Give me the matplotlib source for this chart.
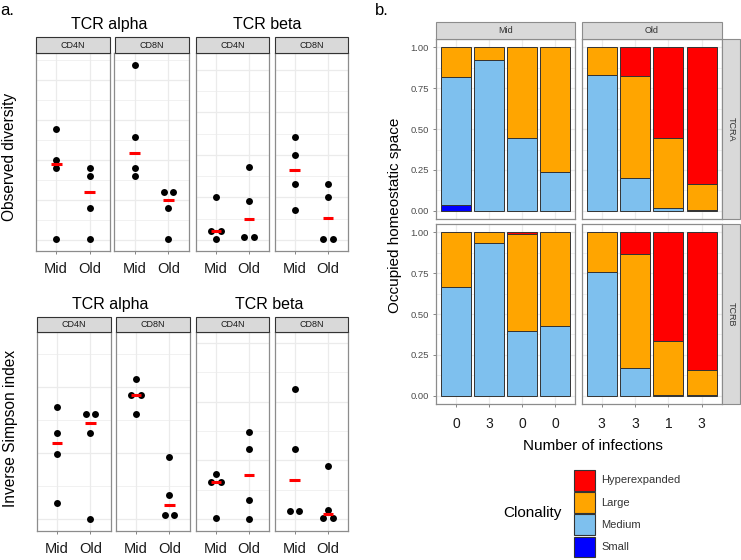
import numpy as np
import matplotlib
matplotlib.use("Agg")
import matplotlib.pyplot as plt
from matplotlib.patches import Rectangle

plt.rcParams['font.family'] = ['Liberation Sans', 'DejaVu Sans']

W, H = 741, 560

# ---- panel a: diversity per donor (no y scale printed, values in arbitrary units)
groups = ["Mid", "Old"]

obs_alpha_cd4n = [[55.5, 40, 36, 0.5], [36, 32, 16, 0.5]]
obs_alpha_cd8n = [[87.5, 51.5, 36, 32], [24, 24, 16, 0.5]]
obs_beta_cd4n = [[20.2, 4.1, 4.1, 0.3], [34.3, 18.2, 1.3, 1.3]]
obs_beta_cd8n = [[48.2, 40, 26.1, 14.1], [26.1, 20.2, 0.3, 0.3]]

inv_alpha_cd4n = [[33.8, 26.1, 19.7, 5.0], [31.9, 31.9, 26.1, 0]]
inv_alpha_cd8n = [[42.3, 37.7, 37.7, 31.9], [18.8, 7.4, 1.2, 1.2]]
inv_beta_cd4n = [[15.3, 12.6, 12.6, 0.5], [29.6, 23.7, 6.5, 0]]
inv_beta_cd8n = [[44.3, 23.7, 2.7, 2.7], [18.0, 3.0, 0.2, 0.2]]

# ---- panel b: clonal space per donor
clonality = ["Hyperexpanded", "Large", "Medium", "Small"]
clon_colors = {"Hyperexpanded": "#FF0000", "Large": "#FFA500",
               "Medium": "#7EC0EE", "Small": "#0000FF"}
infections_mid = ["0", "3", "0", "0"]
infections_old = ["3", "3", "1", "3"]

tra_mid = {"Small": [0.033, 0, 0, 0], "Medium": [0.784, 0.924, 0.446, 0.240],
           "Large": [0.183, 0.076, 0.554, 0.760], "Hyperexpanded": [0, 0, 0, 0]}
tra_old = {"Small": [0, 0, 0, 0], "Medium": [0.832, 0.203, 0.016, 0.003],
           "Large": [0.168, 0.625, 0.430, 0.161], "Hyperexpanded": [0, 0.172, 0.554, 0.836]}
trb_mid = {"Small": [0, 0, 0, 0], "Medium": [0.667, 0.934, 0.398, 0.425],
           "Large": [0.333, 0.066, 0.592, 0.575], "Hyperexpanded": [0, 0, 0.010, 0]}
trb_old = {"Small": [0, 0, 0, 0], "Medium": [0.755, 0.173, 0.005, 0.002],
           "Large": [0.245, 0.691, 0.329, 0.153], "Hyperexpanded": [0, 0.136, 0.666, 0.845]}

fig = plt.figure(figsize=(W / 100, H / 100), dpi=100)


def px_axes(x0, y0, x1, y1):
    return fig.add_axes([x0 / W, 1 - y1 / H, (x1 - x0) / W, (y1 - y0) / H])


def swarm(x, vals, off=0.14):
    vals = np.asarray(vals, dtype=float)
    xs = np.full(len(vals), float(x))
    for u in np.unique(vals):
        idx = np.where(vals == u)[0]
        if len(idx) > 1:
            xs[idx] = x + (np.arange(len(idx)) - (len(idx) - 1) / 2) * 2 * off
    return xs


def dot_panel(box, data, ylim):
    ax = px_axes(*box)
    for i, v in enumerate(data):
        ax.scatter(swarm(i + 1, v), v, s=25, color="black", linewidths=0, zorder=3)
        m = np.median(v)
        ax.plot([i + 1 - 0.16, i + 1 + 0.16], [m, m], color="red", lw=2.2,
                solid_capstyle="butt", zorder=4)
    ax.set_xlim(0.4, 2.6)
    ax.set_ylim(*ylim)
    for k, g in enumerate(np.arange(0, ylim[1], 10)):
        ax.axhline(g, color="#EBEBEB", lw=0.9 if k % 2 == 0 else 0.5, zorder=0)
    for xv in (1, 2):
        ax.axvline(xv, color="#EBEBEB", lw=0.9, zorder=0)
    ax.set_xticks([1, 2])
    ax.set_xticklabels(groups, fontsize=10.5, color="#1a1a1a")
    ax.tick_params(axis="x", length=2.5, width=0.5, color="#555555", pad=6)
    ax.set_yticks([])
    for s in ax.spines.values():
        s.set_color("#8c8c8c")
        s.set_linewidth(0.9)
    return ax


top_x = [(36, 110), (114.5, 188.5), (196, 269), (274.5, 348)]
bot_x = [(37, 110.5), (116, 189.5), (196, 269), (274.5, 348)]
top_data = [(obs_alpha_cd4n, (-5.25, 93.5)), (obs_alpha_cd8n, (-5.25, 93.5)),
            (obs_beta_cd4n, (-4.9, 87.8)), (obs_beta_cd8n, (-4.9, 87.8))]
bot_data = [(inv_alpha_cd4n, (-3.4, 56.6)), (inv_alpha_cd8n, (-3.4, 56.6)),
            (inv_beta_cd4n, (-3.9, 63.7)), (inv_beta_cd8n, (-3.9, 63.7))]

for (x0, x1), (d, yl) in zip(top_x, top_data):
    dot_panel((x0, 53, x1, 250.5), d, yl)
for (x0, x1), (d, yl) in zip(bot_x, bot_data):
    dot_panel((x0, 332, x1, 530.5), d, yl)


def bar_panel(box, shares, labels, show_x, show_y):
    ax = px_axes(*box)
    x = np.arange(1, len(labels) + 1)
    base = np.zeros(len(labels))
    for name in clonality[::-1]:
        h = np.array(shares[name], dtype=float)
        m = h > 0
        ax.bar(x[m], h[m], bottom=base[m], width=0.9, color=clon_colors[name],
               edgecolor="#333333", linewidth=0.7, zorder=2)
        base += h
    ax.set_xlim(0.4, len(labels) + 0.6)
    ax.set_ylim(-0.05, 1.05)
    for g in np.arange(0, 1.01, 0.25):
        ax.axhline(g, color="#EBEBEB", lw=0.9, zorder=0)
    for g in np.arange(0.125, 1.1, 0.25):
        ax.axhline(g, color="#EBEBEB", lw=0.5, zorder=0)
    for xv in x:
        ax.axvline(xv, color="#EBEBEB", lw=0.9, zorder=0)
    if show_x:
        ax.set_xticks(x)
        ax.set_xticklabels(labels, fontsize=10, color="#1a1a1a")
        ax.tick_params(axis="x", length=2.5, width=0.5, color="#555555", pad=7)
    else:
        ax.set_xticks([])
    if show_y:
        ax.set_yticks([0, 0.25, 0.5, 0.75, 1.0])
        ax.set_yticklabels(["0.00", "0.25", "0.50", "0.75", "1.00"], fontsize=6.8, color="#4d4d4d")
        ax.tick_params(axis="y", length=2.5, width=0.5, color="#555555", pad=2.5)
    else:
        ax.set_yticks([])
    for s in ax.spines.values():
        s.set_color("#8c8c8c")
        s.set_linewidth(0.9)
    return ax


bar_panel((436, 39.3, 575.3, 219), tra_mid, infections_mid, False, True)
bar_panel((581.7, 39.3, 721.7, 219), tra_old, infections_old, False, False)
bar_panel((436, 224, 575.3, 404), trb_mid, infections_mid, True, True)
bar_panel((581.7, 224, 721.7, 404), trb_old, infections_old, True, False)

# ---- overlay for strips, titles, legend
ov = fig.add_axes([0, 0, 1, 1])
ov.set_xlim(0, W)
ov.set_ylim(H, 0)
ov.axis("off")

cells = ["CD4N", "CD8N", "CD4N", "CD8N"]
for (x0, x1), lab in zip(top_x, cells):
    ov.add_patch(Rectangle((x0, 37), x1 - x0, 16, facecolor="#D9D9D9", edgecolor="#333333", lw=0.8))
    ov.text((x0 + x1) / 2, 45, lab, ha="center", va="center", fontsize=6.5, color="#1a1a1a")
for (x0, x1), lab in zip(bot_x, cells):
    ov.add_patch(Rectangle((x0, 317), x1 - x0, 15, facecolor="#D9D9D9", edgecolor="#333333", lw=0.8))
    ov.text((x0 + x1) / 2, 324.5, lab, ha="center", va="center", fontsize=6.5, color="#1a1a1a")

ov.text(108.7, 29, "TCR alpha", ha="center", va="baseline", fontsize=11.5)
ov.text(267.2, 29, "TCR beta", ha="center", va="baseline", fontsize=11.5)
ov.text(110.5, 309, "TCR alpha", ha="center", va="baseline", fontsize=11.5)
ov.text(269.5, 309, "TCR beta", ha="center", va="baseline", fontsize=11.5)
ov.text(9.5, 157, "Observed diversity", rotation=90, ha="center", va="center", fontsize=11.2)
ov.text(11, 428, "Inverse Simpson index", rotation=90, ha="center", va="center", fontsize=11.2)
ov.text(0, 3, "a.", ha="left", va="top", fontsize=12)
ov.text(375, 3, "b.", ha="left", va="top", fontsize=12)

for (x0, x1), lab in [((436, 575.3), "Mid"), ((581.7, 721.7), "Old")]:
    ov.add_patch(Rectangle((x0, 22.3), x1 - x0, 17, facecolor="#D9D9D9", edgecolor="#8c8c8c", lw=0.8))
    ov.text((x0 + x1) / 2, 30.8, lab, ha="center", va="center", fontsize=6.5, color="#333333")
for (y0, y1), lab in [((39.3, 219), "TCRA"), ((224, 404), "TCRB")]:
    ov.add_patch(Rectangle((721.7, y0), 18.3, y1 - y0, facecolor="#D9D9D9", edgecolor="#8c8c8c", lw=0.8))
    ov.text(730.8, (y0 + y1) / 2, lab, rotation=-90, ha="center", va="center", fontsize=6.5, color="#333333")

ov.text(395, 215.5, "Occupied homeostatic space", rotation=90, ha="center", va="center", fontsize=11)
ov.text(593, 446, "Number of infections", ha="center", va="center", fontsize=11)

ov.text(532, 513, "Clonality", ha="center", va="center", fontsize=11)
for i, name in enumerate(clonality):
    y0 = 470 + i * 22.2
    ov.add_patch(Rectangle((574.3, y0), 20.4, 20.6, facecolor=clon_colors[name], edgecolor="#333333", lw=0.8))
    ov.text(601, y0 + 10.3, name, ha="left", va="center", fontsize=8, color="#333333")

fig.savefig("out.png", dpi=100)
